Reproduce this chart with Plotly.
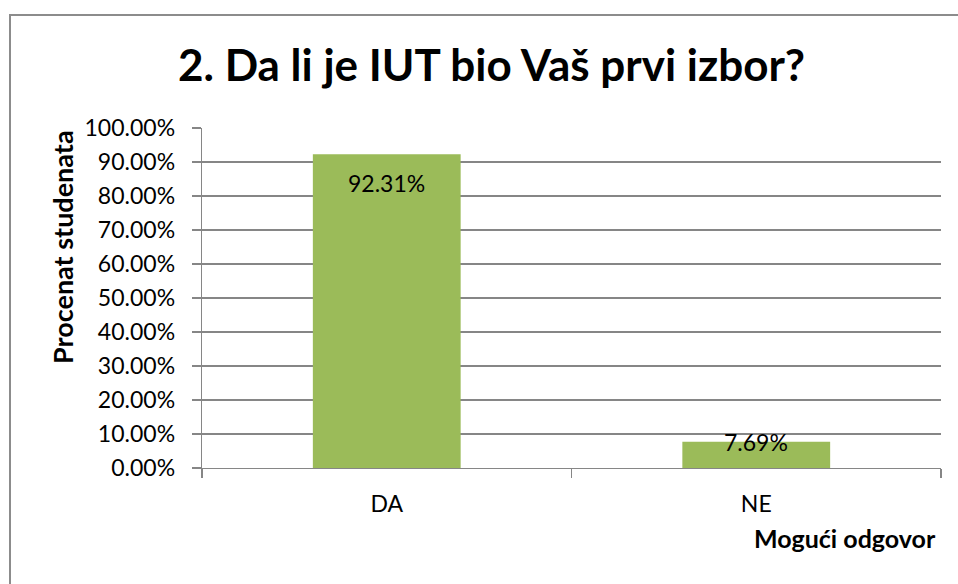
import plotly.graph_objects as go

categories = ["DA", "NE"]
values = [92.31, 7.69]
value_labels = ["92.31%", "7.69%"]
label_shift = [-29, 0]
y_ticks = [0, 10, 20, 30, 40, 50, 60, 70, 80, 90, 100]
y_tick_labels = [f"{t:.2f}%" for t in y_ticks]

title_text = "2. Da li je IUT bio Vaš prvi izbor?"
y_title = "Procenat studenata"
x_title = "Mogući odgovor"

W, H = 958, 584
L, R, T, B = 202, 17, 128, 116
pw, ph = W - L - R, H - T - B

def px_to_paper_x(px):
    return (px - L) / pw

def py_to_paper_y(py):
    return (H - B - py) / ph

FONT = "Lato"
grid_col = "#868686"

fig = go.Figure()
fig.add_trace(go.Bar(
    x=categories, y=values, width=0.4,
    marker=dict(color="#9BBB59", line=dict(width=0)),
    hoverinfo="skip",
))

for c, v, t, s in zip(categories, values, value_labels, label_shift):
    fig.add_annotation(x=c, y=v, text=t, showarrow=False, yshift=s,
                       yanchor="middle", xanchor="center",
                       font=dict(family=FONT, size=23, color="#000000"))

fig.add_annotation(xref="paper", yref="paper", x=px_to_paper_x(491), y=py_to_paper_y(64),
                   text=f"<b>{title_text}</b>", showarrow=False,
                   xanchor="center", yanchor="middle",
                   font=dict(family=FONT, size=44, color="#000000"))
fig.add_annotation(xref="paper", yref="paper", x=px_to_paper_x(62), y=py_to_paper_y(247),
                   text=f"<b>{y_title}</b>", showarrow=False, textangle=-90,
                   xanchor="center", yanchor="middle",
                   font=dict(family=FONT, size=27, color="#000000"))
fig.add_annotation(xref="paper", yref="paper", x=px_to_paper_x(938), y=py_to_paper_y(538),
                   text=f"<b>{x_title}</b>", showarrow=False,
                   xanchor="right", yanchor="middle",
                   font=dict(family=FONT, size=25, color="#000000"))

fig.add_shape(type="rect", xref="paper", yref="paper",
              x0=px_to_paper_x(10), x1=px_to_paper_x(1000),
              y0=py_to_paper_y(640), y1=py_to_paper_y(15),
              line=dict(color="#8c8c8c", width=2), fillcolor="rgba(0,0,0,0)", layer="below")

fig.update_layout(
    width=W, height=H,
    margin=dict(l=L, r=R, t=T, b=B, autoexpand=False),
    paper_bgcolor="white", plot_bgcolor="white",
    showlegend=False,
    bargap=0.6,
    font=dict(family=FONT, size=23, color="#000000"),
)
fig.update_xaxes(
    type="category", range=[-0.5, 1.5], tickson="boundaries",
    ticks="outside", ticklen=9, tickcolor=grid_col, tickwidth=1.3,
    showline=True, linecolor=grid_col, linewidth=1.3,
    showgrid=False, ticklabelstandoff=15,
    tickfont=dict(family=FONT, size=23, color="#000000"),
)
fig.update_yaxes(
    range=[0, 100], tickvals=y_ticks, ticktext=y_tick_labels,
    ticks="outside", ticklen=9, tickcolor=grid_col, tickwidth=1.3,
    showline=True, linecolor=grid_col, linewidth=1.3,
    showgrid=True, gridcolor=grid_col, gridwidth=1.3,
    zeroline=False, ticklabelstandoff=12,
    tickfont=dict(family=FONT, size=23, color="#000000"),
)

fig.write_html(
    "out.html",
    config={"displayModeBar": False, "staticPlot": True},
    post_script="document.body.style.margin='0';document.body.style.overflow='hidden';",
)
